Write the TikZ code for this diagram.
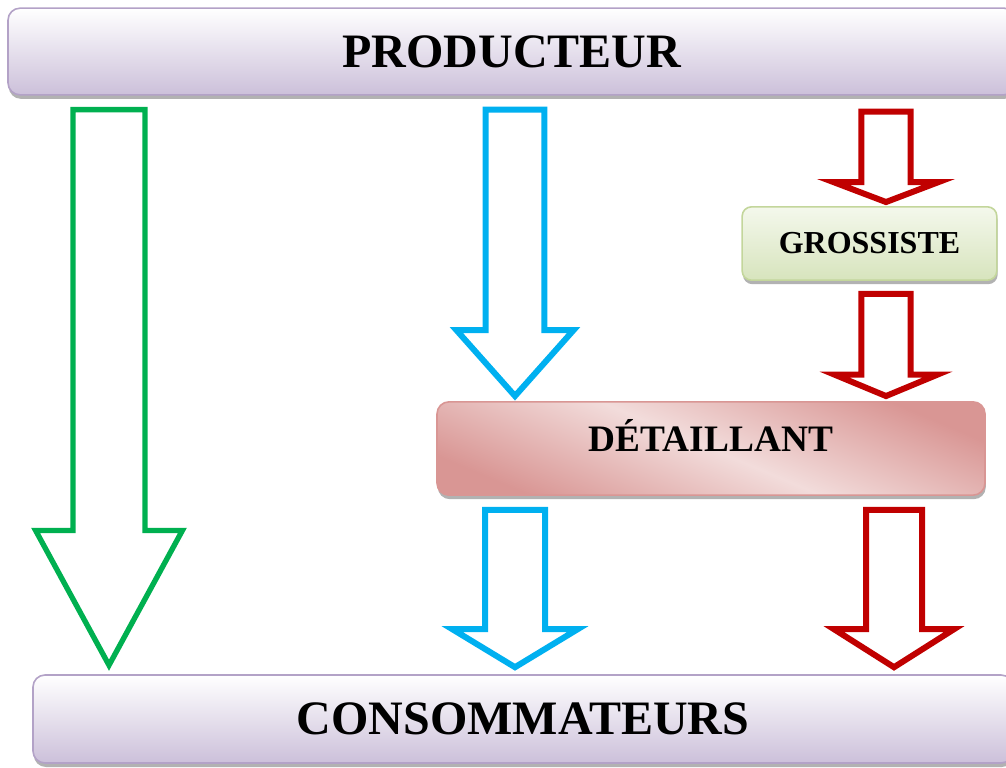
\documentclass[tikz,border=0pt]{standalone}
\usepackage{fontspec}
\setmainfont{Liberation Serif}
\usepackage{xcolor}
\usepackage{tikz}
\usetikzlibrary{calc, shadows}
\definecolor{lilacDark}{HTML}{CCC0DA}
\definecolor{lilacLine}{HTML}{B3A2C7}
\definecolor{sageTop}{HTML}{F4F8EC}
\definecolor{sageDark}{HTML}{D7E4BD}
\definecolor{sageLine}{HTML}{C3D69B}
\definecolor{roseDark}{HTML}{D99694}
\definecolor{roseLight}{HTML}{F2DCDB}
\definecolor{flowGreen}{HTML}{00B050}
\definecolor{flowBlue}{HTML}{00B0F0}
\definecolor{flowRed}{HTML}{C00000}

% block arrow: style, from, to, half shaft, half head, head length
\newcommand{\flowarrow}[6]{%
  \draw[#1] let \p1=(#2), \p2=(#3) in
    (\x1-#4,\y1) -- (\x1+#4,\y1) -- (\x1+#4,\y2+#6) -- (\x1+#5,\y2+#6)
    -- (\x1,\y2) -- (\x1-#5,\y2+#6) -- (\x1-#4,\y2+#6) -- cycle;}

\begin{document}
\begin{tikzpicture}[x=0.75pt, y=-0.75pt,
    actor/.style={rounded corners=9pt, line width=1.2pt, text=black,
      drop shadow={shadow xshift=0.6pt, shadow yshift=-3pt, fill=black, opacity=0.3}},
    endbox/.style={actor, draw=lilacLine, top color=white, bottom color=lilacDark,
      font=\bfseries\fontsize{36}{40}\selectfont},
    flow/.style={line width=4.5pt, line join=miter, fill=white}]
  \useasboundingbox (0,0) rectangle (1006,767);

  % producer and consumers
  \node[endbox, minimum width=756pt, minimum height=65pt] (prod) at (512,51.5) {PRODUCTEUR};
  \node[endbox, minimum width=735pt, minimum height=66pt] (cons) at (523,719) {CONSOMMATEURS};

  % intermediaries
  \node[actor, draw=sageLine, top color=sageTop, bottom color=sageDark,
    rounded corners=7pt, font=\bfseries\fontsize{24}{28}\selectfont,
    minimum width=191pt, minimum height=55pt] (gross) at (869.5,243.5) {GROSSISTE};
  \node[actor, draw=roseDark, top color=roseDark, bottom color=roseDark,
    middle color=roseLight, shading angle=-23, font=\bfseries\fontsize{28}{32}\selectfont,
    text height=22pt, text depth=17pt,
    minimum width=411pt, minimum height=70pt] (det) at (711,448.5) {DÉTAILLANT};

  % channel columns
  \coordinate (directcol) at (109,0);
  \coordinate (shortcol) at (515,0);
  \coordinate (longcol) at (886,0);
  \coordinate (longcolB) at (894,0);

  % direct channel
  \flowarrow{flow, draw=flowGreen, line width=4pt}{$(prod.south -| directcol)+(0,-10.5pt)$}{$(cons.north -| directcol)+(0,6.75pt)$}{27pt}{55pt}{101pt}
  % short channel
  \flowarrow{flow, draw=flowBlue}{$(prod.south -| shortcol)+(0,-10.5pt)$}{$(det.north -| shortcol)+(0,3.75pt)$}{22pt}{44pt}{49.5pt}
  \flowarrow{flow, draw=flowBlue}{$(det.south -| shortcol)+(0,-10.5pt)$}{$(cons.north -| shortcol)+(0,5.25pt)$}{22.5pt}{47pt}{28.5pt}
  % long channel
  \flowarrow{flow, draw=flowRed}{$(prod.south -| longcol)+(0,-12pt)$}{$(gross.north -| longcol)+(0,3pt)$}{18.4pt}{39.5pt}{15pt}
  \flowarrow{flow, draw=flowRed}{$(gross.south -| longcol)+(0,-9.75pt)$}{$(det.north -| longcol)+(0,3.75pt)$}{18.4pt}{38.5pt}{16pt}
  \flowarrow{flow, draw=flowRed}{$(det.south -| longcolB)+(0,-10.5pt)$}{$(cons.north -| longcolB)+(0,5.25pt)$}{21pt}{45pt}{28.5pt}
\end{tikzpicture}
\end{document}
